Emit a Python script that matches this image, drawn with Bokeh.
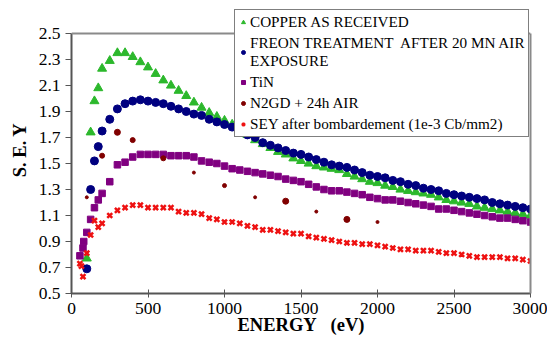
from bokeh.plotting import figure
from bokeh.models import FixedTicker, Legend, LegendItem, ColumnDataSource, LinearAxis, Span
from bokeh.embed import file_html
from bokeh.resources import INLINE

# ---------------- data ----------------
copper_e = [100, 125, 150, 175, 200, 250, 300, 350, 400, 450, 500, 550, 600, 650, 700, 750,
            800, 850, 900, 950, 1000, 1050, 1100, 1150, 1200, 1250, 1300, 1350, 1400, 1450,
            1500, 1550, 1600, 1650, 1700, 1750, 1800, 1850, 1900, 1950, 2000, 2050, 2100,
            2150, 2200, 2250, 2300, 2350, 2400, 2450, 2500, 2550, 2600, 2650, 2700, 2750,
            2800, 2850, 2900, 2950, 3000]
copper_sey = [0.77, 1.74, 1.98, 2.08, 2.23, 2.29, 2.35, 2.35, 2.32, 2.28, 2.24, 2.19, 2.14, 2.10,
              2.06, 2.02, 1.97, 1.93, 1.89, 1.86, 1.83, 1.80, 1.76, 1.72, 1.68, 1.65, 1.62, 1.59,
              1.57, 1.54, 1.52, 1.50, 1.48, 1.47, 1.46, 1.45, 1.42, 1.40, 1.38, 1.36, 1.35, 1.33,
              1.32, 1.30, 1.29, 1.28, 1.27, 1.26, 1.24, 1.22, 1.21, 1.20, 1.19, 1.17, 1.16, 1.15,
              1.14, 1.13, 1.12, 1.11, 1.10]

freon_e = [100, 125, 150, 175, 200, 250, 300, 350, 400, 450, 500, 550, 600, 650, 700, 750,
           800, 850, 900, 950, 1000, 1050, 1100, 1150, 1200, 1250, 1300, 1350, 1400, 1450,
           1500, 1550, 1600, 1650, 1700, 1750, 1800, 1850, 1900, 1950, 2000, 2050, 2100,
           2150, 2200, 2250, 2300, 2350, 2400, 2450, 2500, 2550, 2600, 2650, 2700, 2750,
           2800, 2850, 2900, 2950, 3000]
freon_sey = [0.69, 1.30, 1.52, 1.63, 1.75, 1.84, 1.92, 1.96, 1.98, 1.99, 1.98, 1.97, 1.96, 1.94,
             1.92, 1.90, 1.88, 1.87, 1.84, 1.82, 1.80, 1.78, 1.75, 1.72, 1.70, 1.66, 1.64, 1.62,
             1.60, 1.58, 1.57, 1.55, 1.53, 1.51, 1.49, 1.48, 1.47, 1.45, 1.43, 1.41, 1.40, 1.39,
             1.37, 1.36, 1.34, 1.33, 1.31, 1.30, 1.29, 1.27, 1.26, 1.25, 1.24, 1.23, 1.22, 1.20,
             1.19, 1.18, 1.17, 1.16, 1.15]

tin_e = [55, 75, 80, 100, 125, 150, 175, 200, 250, 300, 350, 400, 450, 500, 550, 600, 650, 700,
         750, 800, 850, 900, 950, 1000, 1050, 1100, 1150, 1200, 1250, 1300, 1350, 1400, 1450,
         1500, 1550, 1600, 1650, 1700, 1750, 1800, 1850, 1900, 1950, 2000, 2050, 2100, 2150,
         2200, 2250, 2300, 2350, 2400, 2450, 2500, 2550, 2600, 2650, 2700, 2750, 2800, 2850,
         2900, 2950, 3000]
tin_sey = [0.79, 0.85, 0.90, 0.97, 1.07, 1.16, 1.22, 1.27, 1.36, 1.49, 1.51, 1.55, 1.57, 1.57,
           1.57, 1.57, 1.56, 1.56, 1.56, 1.55, 1.52, 1.51, 1.50, 1.48, 1.46, 1.45, 1.44, 1.43,
           1.42, 1.41, 1.40, 1.38, 1.37, 1.36, 1.34, 1.32, 1.30, 1.29, 1.29, 1.28, 1.27, 1.26,
           1.24, 1.23, 1.22, 1.22, 1.21, 1.20, 1.19, 1.18, 1.17, 1.15, 1.15, 1.14, 1.13, 1.12,
           1.11, 1.10, 1.09, 1.08, 1.08, 1.07, 1.06, 1.05]

n2gd_e = [100, 200, 300, 400, 600, 800, 1000, 1200, 1400, 1600, 1800, 2000]
n2gd_sey = [1.24, 1.56, 1.74, 1.68, 1.54, 1.43, 1.33, 1.24, 1.21, 1.13, 1.07, 1.05]

bomb_e = [55, 65, 75, 100, 125, 150, 175, 200, 250, 300, 350, 400, 450, 500, 550, 600, 650, 700,
          750, 800, 850, 900, 950, 1000, 1050, 1100, 1150, 1200, 1250, 1300, 1350, 1400, 1450,
          1500, 1550, 1600, 1650, 1700, 1750, 1800, 1850, 1900, 1950, 2000, 2050, 2100, 2150,
          2200, 2250, 2300, 2350, 2400, 2450, 2500, 2550, 2600, 2650, 2700, 2750, 2800, 2850,
          2900, 2950, 3000]
bomb_sey = [0.73, 0.71, 0.63, 0.81, 0.95, 1.06, 1.01, 1.04, 1.10, 1.14, 1.16, 1.18, 1.18, 1.16,
            1.16, 1.16, 1.16, 1.13, 1.12, 1.12, 1.11, 1.08, 1.07, 1.05, 1.05, 1.04, 1.02, 1.01,
            0.99, 0.99, 0.98, 0.97, 0.96, 0.96, 0.94, 0.93, 0.92, 0.91, 0.90, 0.89, 0.89, 0.88,
            0.88, 0.87, 0.86, 0.85, 0.84, 0.84, 0.83, 0.83, 0.83, 0.82, 0.81, 0.81, 0.80, 0.79,
            0.78, 0.78, 0.78, 0.78, 0.77, 0.77, 0.76, 0.75]

series_labels = ["COPPER AS RECEIVED",
                 "FREON TREATMENT  AFTER 20 MN AIR\nEXPOSURE",
                 "TiN",
                 "N2GD + 24h AIR",
                 "SEY after bombardement (1e-3 Cb/mm2)"]

x_ticks = [0, 500, 1000, 1500, 2000, 2500, 3000]
y_ticks = [0.5, 0.7, 0.9, 1.1, 1.3, 1.5, 1.7, 1.9, 2.1, 2.3, 2.5]
y_tick_labels = ["0.5", "0.7", "0.9", "1.1", "1.3", "1.5", "1.7", "1.9", "2.1", "2.3", "2.5"]
x_min, x_max = 0, 3000
y_min, y_max = 0.5, 2.5

# style only (marker sizes of the N2GD points as drawn in the original)
n2gd_marker_sizes = [3, 5, 6, 5, 5, 3, 4, 3, 6, 3, 6, 3]

FONT = "Liberation Serif"
NB = "\u00a0"

# the frame extends 27 px above the 2.5 line so that the legend (which overhangs
# the plot box in the original) is not clipped; 260 px span 0.5 .. 2.5
top_pad = (y_max - y_min) * 27.0 / 260.0

p = figure(width=547, height=341, x_range=(x_min, x_max), y_range=(y_min, y_max + top_pad),
           output_backend="svg", toolbar_location=None,
           min_border_left=71, min_border_right=17, min_border_top=6, min_border_bottom=48)
p.xgrid.visible = False
p.ygrid.visible = False
p.background_fill_color = "white"
p.border_fill_color = "white"
p.outline_line_color = None

# plot box: top line at 2.5 and right line at 3000
p.add_layout(Span(location=y_max, dimension="width", line_color="#8a8a8a", line_width=2))
right_ax = LinearAxis(bounds=(y_min, y_max), ticker=FixedTicker(ticks=[]),
                      major_label_text_font_size="0px", major_tick_line_color=None,
                      minor_tick_line_color=None, axis_line_color="#8a8a8a", axis_line_width=2)
p.add_layout(right_ax, "right")

r_cu = p.scatter(copper_e, copper_sey, marker="triangle", size=9,
                 fill_color="#2cb82c", line_color="#2cb82c")
r_fr = p.scatter(freon_e, freon_sey, marker="circle", size=8,
                 fill_color="#000080", line_color="#000080")
r_tin = p.scatter(tin_e, tin_sey, marker="square", size=6.5,
                  fill_color="#800080", line_color="#800080")
n2_src = ColumnDataSource(dict(e=n2gd_e, s=n2gd_sey, sz=n2gd_marker_sizes))
r_n2 = p.scatter("e", "s", source=n2_src, marker="circle", size="sz",
                 fill_color="#800000", line_color="#800000")
r_bo = p.scatter(bomb_e, bomb_sey, marker="x", size=7, line_width=2.5,
                 line_color="#ee1111")

# axes
for ax in (p.xaxis[0], p.yaxis[0]):
    ax.axis_line_color = "#555555"
    ax.axis_line_width = 2
    ax.major_tick_line_color = "#555555"
    ax.major_tick_line_width = 1
    ax.minor_tick_line_color = None
    ax.major_label_text_font = FONT
    ax.major_label_text_font_size = "17.5px"
    ax.major_label_text_color = "black"
    ax.axis_label_text_font = FONT
    ax.axis_label_text_font_style = "bold"
    ax.axis_label_text_font_size = "18.5px"
    ax.axis_label_text_color = "black"

p.yaxis[0].bounds = (y_min, y_max)
p.xaxis.ticker = FixedTicker(ticks=x_ticks)
p.yaxis[0].ticker = FixedTicker(ticks=y_ticks)
p.yaxis[0].major_label_overrides = {t: l for t, l in zip(y_ticks, y_tick_labels)}
p.xaxis.major_tick_in = 4
p.xaxis.major_tick_out = 4
p.yaxis[0].major_tick_in = 0
p.yaxis[0].major_tick_out = 6
p.xaxis.major_label_standoff = 5
p.yaxis[0].major_label_standoff = 5
p.xaxis.axis_label = "ENERGY" + NB * 3 + "(eV)"
p.yaxis[0].axis_label = "S. E. Y"
p.xaxis.axis_label_standoff = -2
p.yaxis[0].axis_label_standoff = 6

legend = Legend(items=[LegendItem(label=series_labels[0], renderers=[r_cu]),
                       LegendItem(label=series_labels[1], renderers=[r_fr]),
                       LegendItem(label=series_labels[2], renderers=[r_tin]),
                       LegendItem(label=series_labels[3], renderers=[r_n2]),
                       LegendItem(label=series_labels[4], renderers=[r_bo])],
                location=(163, 156))
legend.label_text_font = FONT
legend.label_text_font_size = "15.2px"
legend.label_text_line_height = 0.75
legend.label_text_color = "black"
legend.label_height = 14
legend.label_standoff = 2
legend.glyph_width = 10
legend.glyph_height = 12
legend.spacing = 3
legend.padding = 3
legend.margin = 0
legend.border_line_color = "black"
legend.border_line_width = 1
legend.background_fill_color = "white"
legend.background_fill_alpha = 1.0
p.add_layout(legend)

open("out.html", "w").write(file_html(p, INLINE))
